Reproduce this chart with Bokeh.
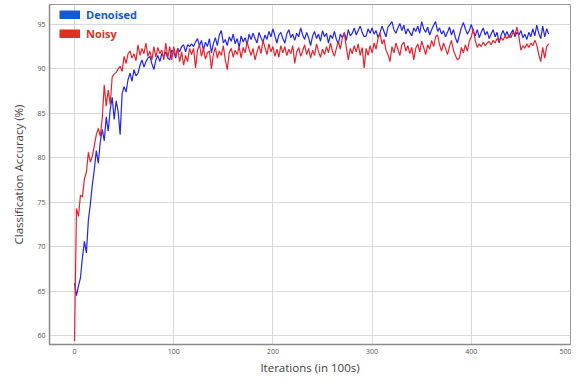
from bokeh.plotting import figure
from bokeh.models import Range1d, FixedTicker, Legend, LegendItem
from bokeh.embed import file_html
from bokeh.resources import INLINE

iterations = list(range(0, 480, 2))

denoised = [
    65.9, 64.5, 65.6, 66.5, 68.8, 70.6, 69.3, 73.0, 74.8, 77.0,
    78.7, 80.8, 79.4, 81.8, 83.2, 81.9, 84.6, 83.0, 85.4, 86.8,
    84.3, 86.4, 85.2, 82.6, 87.2, 88.0, 87.4, 88.8, 89.5, 88.6,
    89.9, 89.2, 89.5, 90.4, 91.0, 90.2, 90.8, 91.2, 91.4, 90.6,
    89.9, 91.0, 91.5, 90.8, 91.7, 91.4, 91.9, 91.2, 91.0, 92.1,
    91.9, 91.2, 92.3, 91.9, 92.5, 92.7, 91.9, 92.7, 92.5, 92.8,
    92.5, 93.0, 93.4, 92.6, 93.2, 92.1, 93.0, 92.5, 93.4, 91.8,
    92.8, 93.5, 92.6, 93.8, 94.3, 92.9, 93.3, 92.6, 93.6, 93.1,
    93.9, 92.8, 93.4, 92.4, 93.7, 93.0, 93.5, 92.7, 93.9, 93.3,
    94.0, 93.4, 92.9, 94.1, 93.5, 93.0, 93.8, 93.3, 94.2, 93.6,
    94.5, 93.7, 92.9, 93.8, 94.1, 93.4, 92.9, 93.9, 94.4, 93.5,
    93.9, 93.2, 94.0, 93.6, 94.6, 93.8, 93.3, 94.1, 93.5, 92.6,
    93.7, 94.2, 93.4, 93.9, 93.1, 94.3, 93.6, 94.0, 92.9, 93.8,
    93.4, 94.2, 93.3, 92.8, 93.9, 93.5, 94.1, 93.2, 94.4, 93.7,
    94.0, 94.6, 93.8, 94.3, 94.8, 94.1, 93.6, 93.7, 94.5, 94.0,
    94.6, 93.9, 94.3, 93.5, 94.1, 94.8, 94.2, 93.6, 94.7, 95.0,
    95.3, 94.4, 94.0, 94.6, 95.1, 94.3, 94.9, 93.9, 94.5, 94.1,
    93.7, 94.6, 94.2, 94.8, 94.0, 95.3, 94.5, 94.1, 94.7, 93.8,
    94.4, 94.9, 95.3, 94.2, 94.6, 93.9, 94.3, 93.6, 94.1, 94.7,
    93.8, 94.4, 93.5, 92.9, 93.8, 94.6, 95.2, 94.5, 93.9, 94.3,
    95.0, 94.2, 93.7, 94.4, 93.5, 94.1, 94.6, 93.8, 94.2, 93.4,
    93.9, 94.4, 93.6, 94.1, 92.9, 93.8, 94.3, 93.7, 94.2, 93.5,
    94.0, 94.4, 93.6, 94.1, 93.8, 94.3, 93.5, 93.9, 93.3, 94.1,
    93.6, 94.5, 93.7, 94.9, 94.0, 93.4, 94.8, 93.6, 94.5, 93.9,
]

noisy = [
    59.4, 74.3, 73.4, 75.8, 75.6, 77.6, 78.4, 80.6, 79.5, 80.2,
    81.4, 82.6, 83.3, 82.4, 84.5, 88.2, 85.8, 87.6, 86.0, 89.1,
    89.4, 89.6, 90.0, 90.3, 89.7, 91.4, 90.6, 91.7, 92.0, 91.2,
    91.7, 90.9, 92.7, 91.5, 92.3, 91.7, 92.9, 91.4, 92.0, 91.0,
    92.5, 91.3, 92.4, 91.7, 92.1, 91.0, 92.9, 91.2, 92.5, 91.0,
    92.5, 91.4, 92.3, 90.8, 91.9, 90.4, 91.5, 90.8, 92.3, 91.6,
    92.3, 90.1, 92.1, 92.7, 91.4, 92.3, 91.1, 91.8, 92.0, 90.0,
    91.6, 92.4, 91.2, 92.0, 91.5, 92.6, 91.0, 89.9, 91.8, 92.3,
    91.3, 92.1, 91.6, 92.5, 91.2, 92.4, 91.8, 93.0, 92.2, 91.5,
    92.3, 91.0, 91.9, 92.6, 91.7, 93.2, 92.4, 91.6, 92.8, 91.9,
    92.5, 91.4, 92.2, 91.3, 92.6, 91.8, 92.5, 91.5, 92.2, 91.7,
    92.6, 90.6, 91.9, 92.4, 91.4, 92.0, 92.7, 91.6, 92.3, 91.2,
    92.1, 91.5, 92.8, 91.9, 91.3, 92.2, 91.6, 92.5, 91.8, 92.9,
    92.0, 91.4, 92.3, 93.1, 92.2, 93.5, 94.0, 92.4, 91.0, 92.3,
    91.7, 92.6, 91.9, 92.8, 91.5, 92.4, 90.1, 92.3, 91.5, 92.6,
    91.8, 92.9, 92.2, 93.4, 94.0, 92.8, 93.3, 92.1, 91.6, 90.8,
    92.5, 91.8, 92.9, 92.2, 91.5, 92.7, 93.0, 92.0, 92.6, 91.7,
    92.4, 91.0, 92.3, 92.8, 91.9, 93.1, 92.4, 91.6, 92.7, 92.2,
    93.2, 92.5, 93.6, 93.8, 92.7, 92.0, 92.9, 92.3, 91.6, 92.5,
    93.2, 92.1, 91.5, 91.0, 91.2, 92.4, 91.8, 92.7, 92.0, 93.1,
    93.6, 94.5, 93.2, 92.4, 92.8, 92.5, 93.0, 92.6, 92.9, 93.1,
    92.7, 93.2, 92.9, 93.4, 93.1, 93.5, 93.2, 93.7, 93.4, 93.8,
    93.5, 94.1, 93.8, 94.7, 93.6, 92.1, 92.6, 92.3, 92.8, 92.4,
    92.9, 92.6, 93.2, 92.7, 91.6, 90.8, 92.4, 91.2, 92.5, 92.8,
]

series_names = ["Denoised", "Noisy"]
x_ticks = [0, 100, 200, 300, 400, 500]
y_ticks = [60, 65, 70, 75, 80, 85, 90, 95]

BLUE_LINE = "#2424e6"
RED_LINE = "#e8222c"
BLUE_BOX = "#1458d4"
RED_BOX = "#e0301e"

FRAME_H = 340

p = figure(frame_width=521, frame_height=FRAME_H, output_backend="svg",
           toolbar_location=None,
           x_range=Range1d(-25.2, 500), y_range=Range1d(59.0, 97.23),
           min_border_left=49, min_border_right=1, min_border_top=4,
           min_border_bottom=0, background_fill_color="white",
           border_fill_color="white")

r_d = p.line(iterations, denoised, line_color=BLUE_LINE, line_width=1.2)
r_n = p.line(iterations, noisy, line_color=RED_LINE, line_width=1.2)

# legend swatches: a single-point line draws nothing in the plot area
sw_d = p.line(iterations[:1], denoised[:1], line_color=BLUE_BOX, line_width=9)
sw_n = p.line(iterations[:1], noisy[:1], line_color=RED_BOX, line_width=9)

for ax in (p.xaxis[0], p.yaxis[0]):
    ax.axis_label_text_font = "Open Sans"
    ax.axis_label_text_font_style = "normal"
    ax.axis_label_text_font_size = "11.5px"
    ax.axis_label_text_color = "#404040"
    ax.major_label_text_font = "Open Sans"
    ax.major_label_text_font_size = "7px"
    ax.major_label_text_color = "#555555"
    ax.axis_line_color = "#8a8a8a"
    ax.axis_line_width = 1.5
    ax.major_tick_line_color = None
    ax.major_tick_out = 0
    ax.major_tick_in = 0
    ax.minor_tick_line_color = None

p.xaxis.axis_label = "Iterations (in 100s)"
p.yaxis.axis_label = "Classification Accuracy (%)"
p.xaxis.ticker = FixedTicker(ticks=x_ticks)
p.yaxis.ticker = FixedTicker(ticks=y_ticks)
p.xaxis.major_label_standoff = 4
p.xaxis.axis_label_standoff = 3
p.yaxis.major_label_standoff = 4
p.yaxis.axis_label_standoff = 8

p.xgrid.ticker = FixedTicker(ticks=x_ticks)
p.ygrid.ticker = FixedTicker(ticks=y_ticks)
p.grid.grid_line_color = "#d9d9d9"
p.grid.grid_line_width = 1

p.outline_line_color = "#9a9a9a"
p.outline_line_width = 1

def make_legend(name, renderer, color, loc):
    lg = Legend(items=[LegendItem(label=name, renderers=[renderer])],
                location=loc, glyph_width=21, glyph_height=9,
                label_text_font="Open Sans", label_text_font_style="bold",
                label_text_font_size="11px", label_text_color=color,
                label_standoff=6, label_height=9, padding=0, margin=0,
                spacing=0, background_fill_alpha=0, border_line_alpha=0)
    return lg

p.add_layout(make_legend(series_names[0], sw_d, BLUE_BOX, (10, FRAME_H - 18)), "center")
p.add_layout(make_legend(series_names[1], sw_n, RED_BOX, (10, FRAME_H - 37)), "center")

open("out.html", "w").write(file_html(p, INLINE))
